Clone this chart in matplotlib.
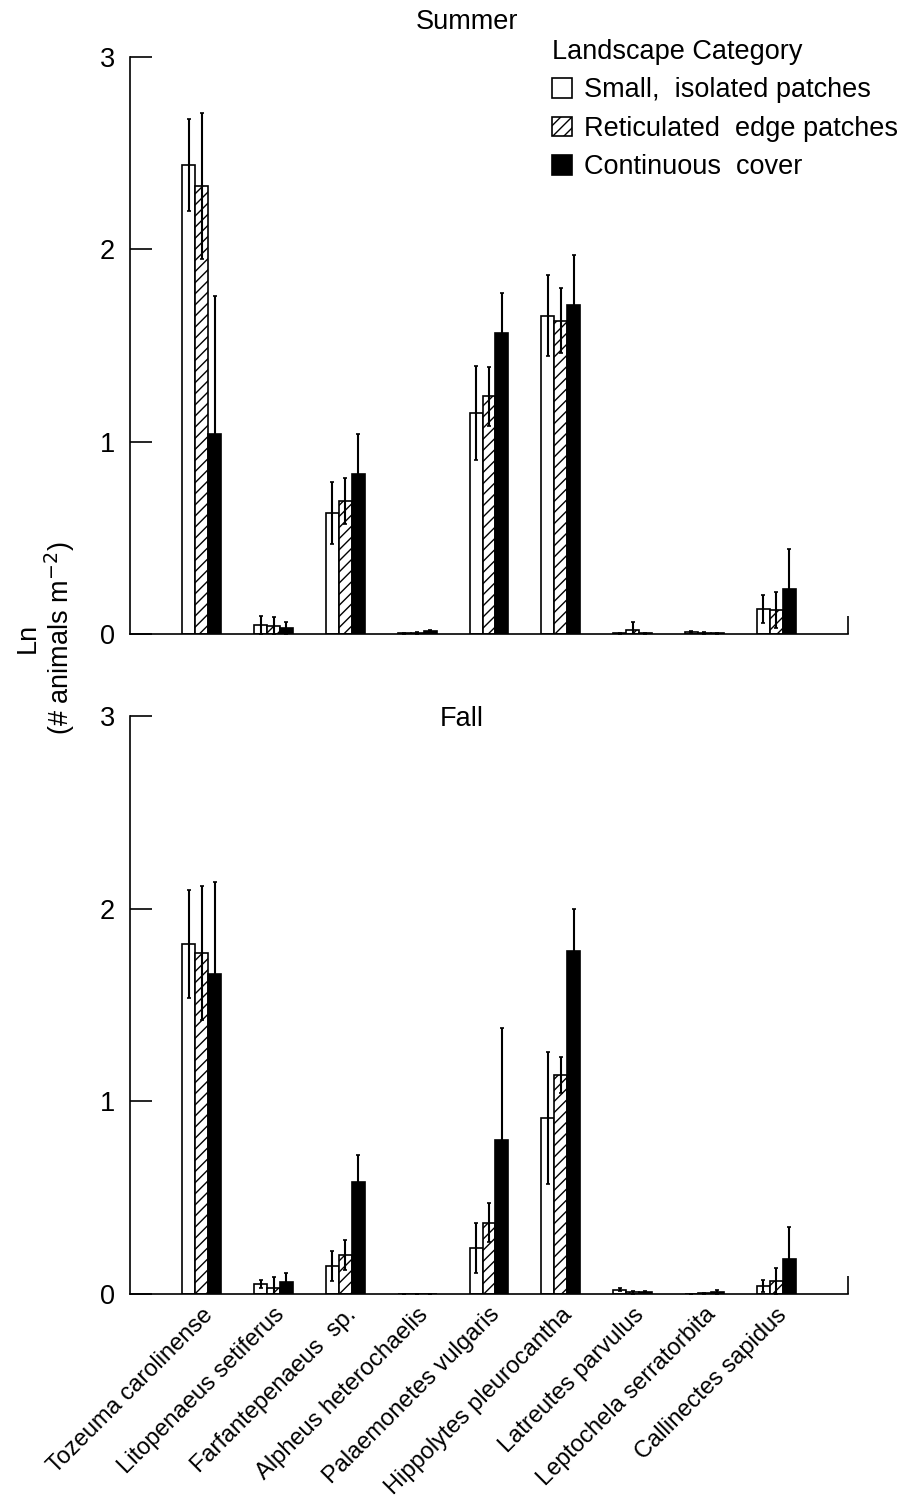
import matplotlib
matplotlib.use("Agg")
import matplotlib.pyplot as plt
from matplotlib.patches import Patch
import numpy as np

plt.rcParams['font.family'] = ['Liberation Sans', 'DejaVu Sans']
plt.rcParams['hatch.linewidth'] = 1.0

species = ["Tozeuma carolinense", "Litopenaeus setiferus", "Farfantepenaeus  sp.",
           "Alpheus heterochaelis", "Palaemonetes vulgaris", "Hippolytes pleurocantha",
           "Latreutes parvulus", "Leptochela serratorbita", "Callinectes sapidus"]
categories = ["Small,  isolated patches", "Reticulated  edge patches", "Continuous  cover"]

# Summer means and errors
summer_small = [2.44, 0.047, 0.63, 0.003, 1.15, 1.655, 0.003, 0.010, 0.13]
summer_small_err = [0.24, 0.047, 0.16, 0.003, 0.245, 0.21, 0.003, 0.004, 0.075]
summer_retic = [2.33, 0.040, 0.69, 0.005, 1.235, 1.63, 0.020, 0.005, 0.125]
summer_retic_err = [0.38, 0.047, 0.12, 0.004, 0.155, 0.17, 0.040, 0.004, 0.095]
summer_cont = [1.04, 0.030, 0.83, 0.015, 1.564, 1.71, 0.003, 0.004, 0.234]
summer_cont_err = [0.72, 0.030, 0.21, 0.006, 0.21, 0.26, 0.003, 0.003, 0.21]

# Fall means and errors
fall_small = [1.816, 0.050, 0.145, 0.0, 0.237, 0.912, 0.023, 0.0, 0.040]
fall_small_err = [0.28, 0.020, 0.08, 0.0, 0.13, 0.343, 0.010, 0.0, 0.032]
fall_retic = [1.77, 0.030, 0.202, 0.0, 0.37, 1.136, 0.010, 0.003, 0.067]
fall_retic_err = [0.35, 0.060, 0.08, 0.0, 0.10, 0.092, 0.008, 0.003, 0.070]
fall_cont = [1.66, 0.060, 0.583, 0.0, 0.80, 1.78, 0.010, 0.008, 0.180]
fall_cont_err = [0.48, 0.050, 0.137, 0.0, 0.58, 0.22, 0.005, 0.012, 0.170]

yticks = [0, 1, 2, 3]
FS = 19.5
FS_X = 17

W = 0.18
x = np.arange(len(species))
styles = [dict(facecolor='white', hatch=None),
          dict(facecolor='white', hatch='///'),
          dict(facecolor='black', hatch=None)]

fig = plt.figure(figsize=(9.12, 15.02), dpi=100)
ax1 = fig.add_axes([0.1425, 0.5779, 0.7873, 0.3841])
ax2 = fig.add_axes([0.1425, 0.1385, 0.7873, 0.3848])


def draw(ax, series, errs):
    for i, (vals, err) in enumerate(zip(series, errs)):
        xs = x + (i - 1) * W
        st = styles[i]
        ax.bar(xs, vals, width=W, facecolor=st['facecolor'], hatch=st['hatch'],
               edgecolor='black', linewidth=1.2, zorder=2)
        ax.errorbar(xs, vals, yerr=err, fmt='none', ecolor='black',
                    elinewidth=1.5, capsize=1.5, capthick=1.2, zorder=3)
    ax.set_xlim(-1, 9)
    ax.set_ylim(0, 3)
    ax.set_yticks(yticks)
    ax.set_yticklabels([str(t) for t in yticks], fontsize=FS)
    ax.tick_params(axis='y', direction='in', length=16, width=1.2, pad=11)
    ax.spines['top'].set_visible(False)
    ax.spines['right'].set_visible(False)
    ax.spines['left'].set_linewidth(1.2)
    ax.spines['bottom'].set_linewidth(1.2)
    ax.spines['left'].set_bounds(0, 3)
    ax.set_xticks(x)
    ax.tick_params(axis='x', which='major', length=0, pad=7)
    ax.set_xticks([9], minor=True)
    ax.tick_params(axis='x', which='minor', direction='in', length=13, width=1.2)


draw(ax1, [summer_small, summer_retic, summer_cont],
     [summer_small_err, summer_retic_err, summer_cont_err])
draw(ax2, [fall_small, fall_retic, fall_cont],
     [fall_small_err, fall_retic_err, fall_cont_err])

ax1.set_xticklabels([])
ax2.set_xticklabels(species, rotation=45, ha='right', rotation_mode='anchor',
                    fontsize=FS_X)
for lab in ax2.get_xticklabels():
    lab.set_va('top')

fig.text(467 / 912, 1 - 22 / 1502, "Summer", ha='center', va='center', fontsize=FS)
ax2.text((462 - 130) / (848 - 130), (1294 - 719) / (1294 - 716), "Fall",
         transform=ax2.transAxes, ha='center', va='center', fontsize=FS)

fig.text(46 / 912, 1 - 638 / 1502, "Ln\n(# animals m$^{-2}$)", rotation=90,
         ha='center', va='center', fontsize=FS, multialignment='center',
         linespacing=1.05)

handles = [Patch(facecolor='white', edgecolor='black', linewidth=1.2),
           Patch(facecolor='white', edgecolor='black', hatch='///', linewidth=1.2),
           Patch(facecolor='black', edgecolor='black', linewidth=1.2)]
leg = fig.legend(handles, categories, title="Landscape Category",
                 loc='upper left', bbox_to_anchor=(552 / 912, 1 - 39 / 1502),
                 frameon=False, fontsize=FS, title_fontsize=FS,
                 handlelength=0.75, handleheight=0.75, handletextpad=0.45,
                 labelspacing=0.46, borderaxespad=0, borderpad=0,
                 alignment='left')

fig.savefig("out.png", dpi=100)
